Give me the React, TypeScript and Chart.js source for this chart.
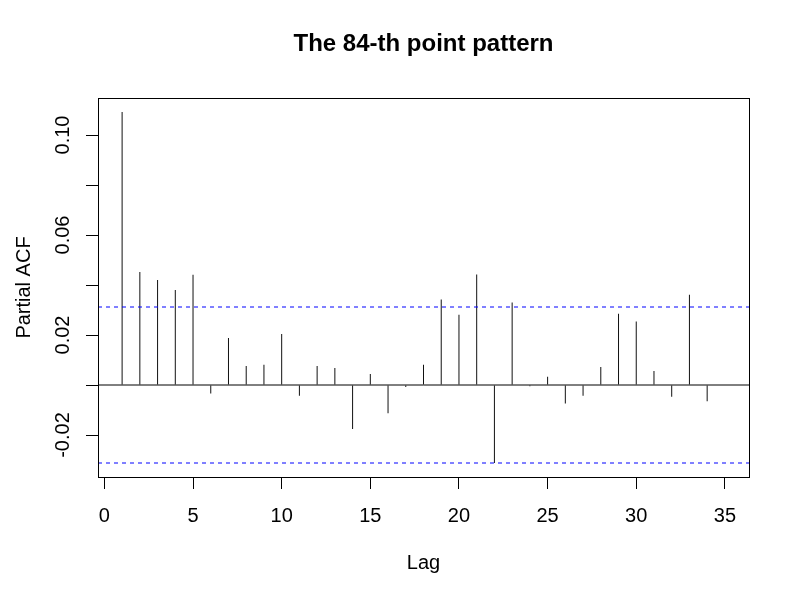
import React, { useEffect, useRef } from "react";
import { Chart, registerables } from "chart.js";

Chart.register(...registerables);

const TITLE = "The 84-th point pattern";
const X_LABEL = "Lag";
const Y_LABEL = "Partial ACF";

const lags = [
  1, 2, 3, 4, 5, 6, 7, 8, 9, 10, 11, 12, 13, 14, 15, 16, 17, 18, 19, 20, 21, 22, 23, 24, 25, 26, 27, 28, 29, 30, 31, 32, 33, 34, 35,
];
const pacfValues = [
  0.1092, 0.0452, 0.042, 0.038, 0.0441, -0.0034, 0.0188, 0.0076, 0.0081, 0.0204,
  -0.0043, 0.0076, 0.0068, -0.0176, 0.0044, -0.0113, -0.0008, 0.0081, 0.0342, 0.0281,
  0.0442, -0.0312, 0.033, -0.0005, 0.0033, -0.0074, -0.0043, 0.0072, 0.0285, 0.0254,
  0.0056, -0.0047, 0.0361, -0.0065, 0.0002,
];
const confLimit = 0.0312;

const xTicks = [0, 5, 10, 15, 20, 25, 30, 35];
const yTicks = [-0.02, 0, 0.02, 0.04, 0.06, 0.08, 0.1];
const yLabelled = ["-0.02", "0.02", "0.06", "0.10"];

const X_MIN = -0.36;
const X_MAX = 36.36;
const Y_MIN = -0.0368;
const Y_MAX = 0.1148;

const FONT = "'Liberation Sans', Arial, Helvetica, sans-serif";

const boxPlugin = {
  id: "plotBox",
  afterDraw(chart: any) {
    const { ctx, chartArea } = chart;
    ctx.save();
    ctx.strokeStyle = "#000";
    ctx.lineWidth = 1;
    const l = Math.round(chartArea.left) + 0.5;
    const t = Math.round(chartArea.top) + 0.5;
    const r = Math.round(chartArea.right) + 0.5;
    const b = Math.round(chartArea.bottom) + 0.5;
    ctx.strokeRect(l, t, r - l, b - t);
    ctx.restore();
  },
};

export default function App() {
  const ref = useRef<HTMLCanvasElement | null>(null);

  useEffect(() => {
    document.body.style.margin = "0";
    const canvas = ref.current;
    if (!canvas) return;

    const chart = new Chart(canvas, {
      type: "bar",
      data: {
        datasets: [
          {
            type: "bar",
            data: lags.map((l, i) => ({ x: l, y: pacfValues[i] })),
            backgroundColor: "#111",
            borderWidth: 0,
            barThickness: 1,
            inflateAmount: 0,
            order: 2,
          } as any,
          {
            type: "line",
            data: [
              { x: X_MIN, y: 0 },
              { x: X_MAX, y: 0 },
            ],
            borderColor: "#000",
            borderWidth: 1,
            pointRadius: 0,
            order: 1,
          } as any,
          {
            type: "line",
            data: [
              { x: X_MIN, y: confLimit },
              { x: X_MAX, y: confLimit },
            ],
            borderColor: "#0000ff",
            borderWidth: 1,
            borderDash: [4, 4],
            pointRadius: 0,
            order: 1,
          } as any,
          {
            type: "line",
            data: [
              { x: X_MIN, y: -confLimit },
              { x: X_MAX, y: -confLimit },
            ],
            borderColor: "#0000ff",
            borderWidth: 1,
            borderDash: [4, 4],
            pointRadius: 0,
            order: 1,
          } as any,
        ],
      },
      options: {
        animation: false,
        responsive: false,
        devicePixelRatio: 1,
        layout: { padding: { left: 0, right: 51, top: 0, bottom: 0 } },
        plugins: {
          legend: { display: false },
          tooltip: { enabled: false },
          title: {
            display: true,
            text: TITLE,
            fullSize: false,
            color: "#000",
            font: { family: FONT, size: 24, weight: "bold" },
            padding: { top: 30, bottom: 39.2 },
          },
        },
        scales: {
          x: {
            type: "linear",
            min: X_MIN,
            max: X_MAX,
            offset: false,
            afterBuildTicks: (scale: any) => {
              scale.ticks = xTicks.map((v) => ({ value: v }));
            },
            afterFit: (scale: any) => {
              scale.height = 123;
            },
            grid: {
              offset: false,
              drawOnChartArea: false,
              drawTicks: true,
              tickLength: 12,
              tickColor: "#000",
              color: "#000",
            },
            border: { display: true, color: "#000" },
            ticks: {
              color: "#000",
              font: { family: FONT, size: 20 },
              padding: 15,
              maxRotation: 0,
              minRotation: 0,
              autoSkip: false,
              callback: (v: any) => String(v),
            },
            title: {
              display: true,
              text: X_LABEL,
              color: "#000",
              font: { family: FONT, size: 20 },
              padding: { top: 0, bottom: 25 },
            },
          },
          y: {
            type: "linear",
            min: Y_MIN,
            max: Y_MAX,
            beginAtZero: false,
            afterBuildTicks: (scale: any) => {
              scale.ticks = yTicks.map((v) => ({ value: v }));
            },
            afterFit: (scale: any) => {
              scale.width = 98;
            },
            grid: {
              drawOnChartArea: false,
              drawTicks: true,
              tickLength: 12,
              tickColor: "#000",
              color: "#000",
            },
            border: { display: true, color: "#000" },
            ticks: {
              color: "#000",
              font: { family: FONT, size: 20 },
              padding: 0,
              minRotation: 90,
              maxRotation: 90,
              crossAlign: "center",
              autoSkip: false,
              callback: (v: any) => {
                const s = (Math.round(Number(v) * 100) / 100).toFixed(2);
                return yLabelled.includes(s) ? s : "";
              },
            },
            title: {
              display: true,
              text: Y_LABEL,
              color: "#000",
              font: { family: FONT, size: 20 },
              padding: { top: 12, bottom: 0 },
            },
          },
        },
      } as any,
      plugins: [boxPlugin],
    });

    return () => chart.destroy();
  }, []);

  return (
    <div style={{ width: 800, height: 600, background: "#fff" }}>
      <canvas ref={ref} width={800} height={600} style={{ display: "block", width: 800, height: 600 }} />
    </div>
  );
}
